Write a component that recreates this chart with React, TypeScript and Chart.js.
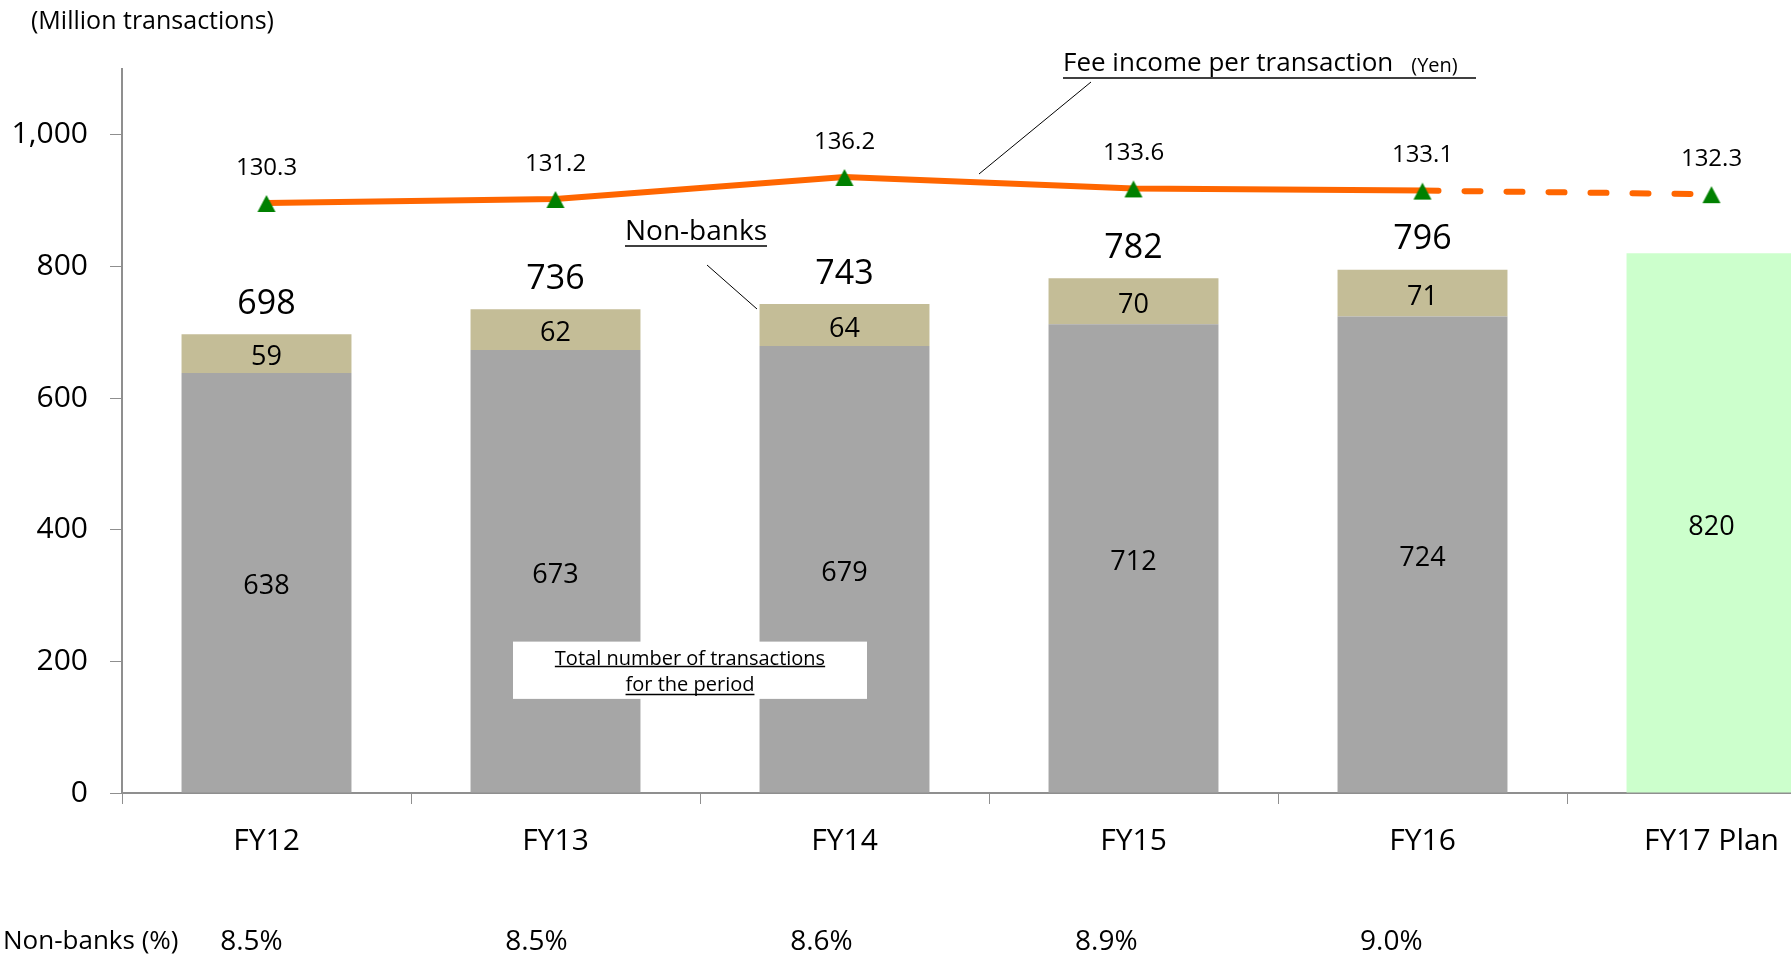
import React, { useEffect, useRef } from 'react';
import { Chart, registerables } from 'chart.js';

Chart.register(...registerables);

const categories = ['FY12', 'FY13', 'FY14', 'FY15', 'FY16', 'FY17 Plan'];
const banksValues = [638, 673, 679, 712, 724, null];
const nonBankValues = [59, 62, 64, 70, 71, null];
const planValues = [null, null, null, null, null, 820];
const totalLabels = [698, 736, 743, 782, 796, null];
const feePerTransaction = [130.3, 131.2, 136.2, 133.6, 133.1, 132.3];
const nonBankShare = ['8.5%', '8.5%', '8.6%', '8.9%', '9.0%'];
const yTickValues = [0, 200, 400, 600, 800, 1000];

const FONT = "'Open Sans', 'Noto Sans', 'DejaVu Sans', sans-serif";
const AXIS_COLOR = '#8f8f8f';

function makeTriangle(): HTMLCanvasElement {
  const c = document.createElement('canvas');
  c.width = 20;
  c.height = 20;
  const g = c.getContext('2d')!;
  g.fillStyle = '#008000';
  g.beginPath();
  g.moveTo(10, 2);
  g.lineTo(19, 19);
  g.lineTo(1, 19);
  g.closePath();
  g.fill();
  return c;
}

function underlinedText(ctx: CanvasRenderingContext2D, text: string, x: number, y: number, size: number, align: CanvasTextAlign, ulOffset: number) {
  ctx.font = `${size}px ${FONT}`;
  ctx.textAlign = align;
  ctx.textBaseline = 'middle';
  ctx.fillText(text, x, y);
  const w = ctx.measureText(text).width;
  const x0 = align === 'center' ? x - w / 2 : align === 'right' ? x - w : x;
  ctx.beginPath();
  ctx.lineWidth = 1.5;
  ctx.moveTo(x0, y + ulOffset);
  ctx.lineTo(x0 + w, y + ulOffset);
  ctx.stroke();
}

const labelsPlugin = {
  id: 'customLabels',
  afterDatasetsDraw(chart: any) {
    const ctx: CanvasRenderingContext2D = chart.ctx;
    const xs = chart.scales.x;
    const ys = chart.scales.y;
    ctx.save();
    ctx.fillStyle = '#000';
    ctx.strokeStyle = '#000';
    ctx.textAlign = 'center';
    ctx.textBaseline = 'middle';

    // values inside bar segments
    [0, 1, 2].forEach((di) => {
      const meta = chart.getDatasetMeta(di);
      const vals = chart.data.datasets[di].data;
      meta.data.forEach((el: any, j: number) => {
        const v = vals[j];
        if (v == null) return;
        ctx.font = `27px ${FONT}`;
        ctx.textAlign = 'center';
        ctx.fillText(String(v), el.x, (el.y + el.base) / 2 + 4);
      });
    });

    // totals above bars
    const tanMeta = chart.getDatasetMeta(1);
    totalLabels.forEach((t, j) => {
      if (t == null) return;
      const el = tanMeta.data[j];
      ctx.font = `34px ${FONT}`;
      ctx.textAlign = 'center';
      ctx.fillText(String(t), el.x, el.y - 30);
    });

    // line value labels
    const lineMeta = chart.getDatasetMeta(3);
    feePerTransaction.forEach((v, j) => {
      const el = lineMeta.data[j];
      ctx.font = `24px ${FONT}`;
      ctx.textAlign = 'center';
      ctx.fillText(v.toFixed(1), el.x, el.y - 35);
    });

    // Title
    ctx.font = `25px ${FONT}`;
    ctx.textAlign = 'left';
    ctx.fillText('(Million transactions)', 31, 22);

    // Fee income annotation
    ctx.font = `26px ${FONT}`;
    ctx.textAlign = 'left';
    const feeText = 'Fee income per transaction';
    ctx.fillText(feeText, 1063, 64);
    const fw = ctx.measureText(feeText).width;
    ctx.font = `20px ${FONT}`;
    ctx.fillText('(Yen)', 1063 + fw + 18, 66);
    ctx.beginPath();
    ctx.lineWidth = 1.5;
    ctx.moveTo(1063, 78);
    ctx.lineTo(1476, 78);
    ctx.stroke();
    ctx.beginPath();
    ctx.lineWidth = 1;
    ctx.moveTo(1091, 82);
    ctx.lineTo(979, 174);
    ctx.stroke();

    // Non-banks annotation
    underlinedText(ctx, 'Non-banks', 696, 232, 28, 'center', 14);
    ctx.beginPath();
    ctx.lineWidth = 1;
    ctx.moveTo(707, 265);
    ctx.lineTo(757, 309);
    ctx.stroke();

    // Total box
    const bx0 = (xs.getPixelForValue(1) + xs.getPixelForValue(2)) / 2 - 187;
    const by0 = ys.getPixelForValue(230);
    const by1 = ys.getPixelForValue(143);
    ctx.fillStyle = '#fff';
    ctx.fillRect(bx0, by0, 354, by1 - by0);
    ctx.fillStyle = '#000';
    const bcx = bx0 + 177;
    underlinedText(ctx, 'Total number of transactions', bcx, by0 + 18, 20, 'center', 7);
    underlinedText(ctx, 'for the period', bcx, by0 + 44, 20, 'center', 9);

    // Non-bank share row (table spacing slightly narrower than the category bands)
    ctx.font = `26px ${FONT}`;
    ctx.textAlign = 'left';
    ctx.fillText('Non-banks (%)', 3, 942);
    const p0 = xs.getPixelForValue(0);
    nonBankShare.forEach((p, j) => {
      const pj = xs.getPixelForValue(j);
      ctx.font = `28px ${FONT}`;
      ctx.textAlign = 'center';
      ctx.fillText(p, p0 + (pj - p0) * 0.986 - 15, 942);
    });

    ctx.restore();
  },
};

export default function App() {
  const canvasRef = useRef<HTMLCanvasElement | null>(null);

  useEffect(() => {
    const canvas = canvasRef.current;
    if (!canvas) return;
    const tri = makeTriangle();
    const chart = new Chart(canvas, {
      type: 'bar',
      data: {
        labels: categories,
        datasets: [
          {
            label: 'Banks',
            data: banksValues,
            backgroundColor: '#A6A6A6',
            stack: 's',
            barPercentage: 0.588,
            categoryPercentage: 1,
            order: 2,
          },
          {
            label: 'Non-banks',
            data: nonBankValues,
            backgroundColor: '#C4BD97',
            stack: 's',
            barPercentage: 0.588,
            categoryPercentage: 1,
            order: 2,
          },
          {
            label: 'Plan',
            data: planValues,
            backgroundColor: '#CCFFCC',
            stack: 's',
            barPercentage: 0.588,
            categoryPercentage: 1,
            order: 2,
          },
          {
            type: 'line',
            label: 'Fee income per transaction',
            data: feePerTransaction,
            yAxisID: 'y2',
            borderColor: '#FF6600',
            backgroundColor: '#008000',
            borderWidth: 6,
            borderCapStyle: 'round',
            fill: false,
            tension: 0,
            pointStyle: tri,
            pointRadius: 10,
            order: 0,
            segment: {
              borderDash: (c: any) => (c.p0DataIndex === 4 ? [16, 26] : undefined),
            },
          } as any,
        ],
      },
      options: {
        responsive: false,
        animation: false,
        layout: { autoPadding: false, padding: { top: 69, left: 0, right: 0, bottom: 0 } },
        plugins: {
          legend: { display: false },
          tooltip: { enabled: false },
          title: { display: false },
        },
        scales: {
          x: {
            stacked: true,
            offset: true,
            grid: {
              display: true,
              drawOnChartArea: false,
              drawTicks: true,
              tickLength: 11,
              color: AXIS_COLOR,
              lineWidth: 1,
              offset: true,
            },
            border: { display: true, color: AXIS_COLOR, width: 2 },
            ticks: {
              color: '#000',
              font: { family: FONT, size: 30 },
              padding: 19,
              maxRotation: 0,
              autoSkip: false,
            },
            afterFit: (s: any) => {
              s.height = 161;
            },
          },
          y: {
            stacked: true,
            min: 0,
            max: 1100,
            afterBuildTicks: (s: any) => {
              s.ticks = yTickValues.map((v) => ({ value: v }));
            },
            grid: {
              drawOnChartArea: false,
              drawTicks: true,
              tickLength: 12,
              color: AXIS_COLOR,
              lineWidth: 1,
            },
            border: { display: true, color: AXIS_COLOR, width: 2 },
            ticks: {
              color: '#000',
              font: { family: FONT, size: 30 },
              padding: 22,
              callback: (v: any) => Number(v).toLocaleString('en-US'),
            },
            afterFit: (s: any) => {
              s.width = 122;
            },
          },
          y2: {
            display: false,
            min: -3.6,
            max: 160.7,
          },
        },
      } as any,
      plugins: [labelsPlugin],
    });
    return () => chart.destroy();
  }, []);

  return (
    <div
      style={{
        position: 'fixed',
        left: 0,
        top: 0,
        width: 1791,
        height: 954,
        overflow: 'hidden',
        background: '#fff',
      }}
    >
      <canvas ref={canvasRef} width={1856} height={954} style={{ display: 'block', width: 1856, height: 954 }} />
    </div>
  );
}
